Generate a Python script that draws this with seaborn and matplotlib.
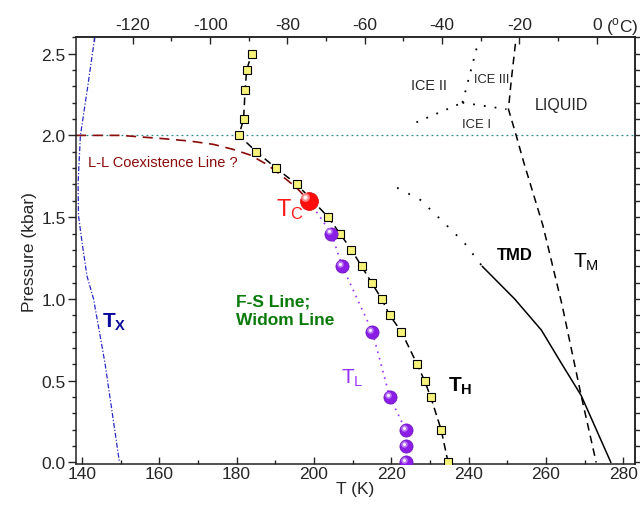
import numpy as np
import pandas as pd
import matplotlib
matplotlib.use("Agg")
import matplotlib.pyplot as plt
import matplotlib.transforms as mtransforms
import seaborn as sns

# --- data (T in K, P in kbar) ---
th_T = [234.7, 232.9, 230.2, 228.6, 226.7, 222.6, 219.6, 217.5, 214.9, 212.3, 209.7,
        206.7, 203.7, 195.6, 190.2, 185.1, 180.6, 181.8, 182.2, 182.6, 183.9]
th_P = [0.0, 0.2, 0.4, 0.5, 0.6, 0.8, 0.9, 1.0, 1.1, 1.2, 1.3,
        1.4, 1.5, 1.7, 1.8, 1.9, 2.0, 2.1, 2.28, 2.4, 2.5]

tl_T = [204.5, 207.3, 215.1, 219.6, 223.7, 223.7, 223.7]
tl_P = [1.4, 1.2, 0.8, 0.4, 0.2, 0.1, 0.0]

tc_T = [198.7]
tc_P = [1.6]

ll_T = [138.5, 150.0, 161.0, 168.0, 174.0, 179.0, 183.5, 188.0, 192.1, 195.5, 198.7]
ll_P = [2.0, 2.0, 1.98, 1.965, 1.945, 1.915, 1.88, 1.82, 1.745, 1.68, 1.6]

tx_T = [143.3, 141.5, 139.6, 139.0, 139.1, 140.0, 141.3, 143.0, 146.0, 149.7]
tx_P = [2.6, 2.3, 2.0, 1.71, 1.51, 1.35, 1.14, 1.0, 0.6, 0.0]

tmd_dot_T = [221.5, 227.5, 233.2, 238.9, 243.5]
tmd_dot_P = [1.68, 1.606, 1.476, 1.343, 1.2]
tmd_T = [243.5, 251.9, 258.8, 263.9, 269.1, 276.8]
tmd_P = [1.2, 1.0, 0.81, 0.61, 0.41, 0.0]

tm_T = [252.1, 251.0, 250.3, 252.3, 254.2, 259.2, 264.2, 269.1, 273.0]
tm_P = [2.56, 2.33, 2.16, 2.0, 1.84, 1.45, 0.96, 0.41, 0.0]

ice12_T = [226.5, 238.4]
ice12_P = [2.08, 2.2]
ice13_T = [238.4, 249.8]
ice13_P = [2.2, 2.16]
ice23_T = [238.4, 242.1]
ice23_P = [2.2, 2.535]

x_ticks = [140, 160, 180, 200, 220, 240, 260, 280]
y_ticks = [0.0, 0.5, 1.0, 1.5, 2.0, 2.5]
c_ticks = [-120, -100, -80, -60, -40, -20, 0]

sns.set_style("ticks")
plt.rcParams['font.family'] = ['Liberation Sans', 'DejaVu Sans']
plt.rcParams['axes.unicode_minus'] = False
plt.rcParams['mathtext.fontset'] = 'custom'
plt.rcParams['mathtext.rm'] = 'Liberation Sans'
plt.rcParams['mathtext.bf'] = 'Liberation Sans:bold'

fig = plt.figure(figsize=(6.4, 5.1), dpi=100)
ax = fig.add_axes([0.119, 0.088, 0.873, 0.837])


def line(x, y, **kw):
    sns.lineplot(x=x, y=y, sort=False, estimator=None, ax=ax, **kw)


# reference line at 2 kbar
ax.axhline(2.0, color="#2a8a8a", lw=0.9, ls=(0, (1.5, 2.5)), zorder=1)

# T_X
line(tx_T, tx_P, color="#2a2ac8", lw=0.9, linestyle=(0, (4, 1.5, 1, 1.5)))
# L-L coexistence
line(ll_T, ll_P, color="#8b0a0a", lw=1.2, linestyle=(0, (6, 4)))
# T_L dotted
line(tc_T + tl_T[:5], tc_P + tl_P[:5], color="#9933ff", lw=1.2, linestyle=(0, (1, 3)))
# T_H dashed with squares
line(th_T, th_P, color="black", lw=1.1, linestyle=(0, (5, 3)), marker="s",
     markersize=5.5, markerfacecolor="#f6f27a", markeredgecolor="black",
     markeredgewidth=0.8, zorder=3)
# TMD
line(tmd_dot_T, tmd_dot_P, color="black", lw=1.3, linestyle=(0, (1, 6)))
line(tmd_T, tmd_P, color="black", lw=1.1)
# T_M
line(tm_T, tm_P, color="black", lw=1.1, linestyle=(0, (5, 3.5)))
# ice boundaries
for xs, ys in [(ice12_T, ice12_P), (ice13_T, ice13_P), (ice23_T, ice23_P)]:
    line(xs, ys, color="black", lw=1.3, linestyle=(0, (1, 5)))

# spheres
hl = ax.transData + mtransforms.ScaledTranslation(-1.5 / 72, 1.5 / 72, fig.dpi_scale_trans)
hl_r = ax.transData + mtransforms.ScaledTranslation(-2.5 / 72, 2.5 / 72, fig.dpi_scale_trans)
sns.scatterplot(x=tl_T, y=tl_P, ax=ax, s=90, color="#8a1ee6", edgecolor="#6a10b8",
                linewidth=0.5, zorder=5)
ax.scatter(tl_T, tl_P, s=22, color="#c890ff", alpha=0.8, lw=0, zorder=6, transform=hl)
ax.scatter(tl_T, tl_P, s=5, color="white", alpha=0.9, lw=0, zorder=7, transform=hl)
sns.scatterplot(x=tc_T, y=tc_P, ax=ax, s=165, color="#ff0d0d", edgecolor="#d00000",
                linewidth=0.5, zorder=5)
ax.scatter(tc_T, tc_P, s=40, color="#ff9a9a", alpha=0.85, lw=0, zorder=6, transform=hl_r)
ax.scatter(tc_T, tc_P, s=10, color="white", alpha=0.9, lw=0, zorder=7, transform=hl_r)

# labels
ax.text(141.6, 1.84, "L-L Coexistence Line ?", color="#8b0a0a", fontsize=10.5, va="center")
ax.text(190.3, 1.514, r"$\mathregular{T_C}$", color="#ff1a1a", fontsize=17, va="baseline")
ax.text(145.2, 0.828, r"$\mathbf{T_X}$", color="#0a0a9a", fontsize=15, va="baseline")
ax.text(179.9, 0.93, "F-S Line;\nWidom Line", color="#0a7a0a", fontsize=12.5, fontweight="bold",
        va="center", linespacing=1.25)
ax.text(207.1, 0.49, r"$\mathregular{T_L}$", color="#9933ff", fontsize=15, va="baseline")
ax.text(234.6, 0.438, r"$\mathbf{T_H}$", color="black", fontsize=15, va="baseline")
ax.text(251.9, 1.27, "TMD", color="black", fontsize=12, fontweight="bold", ha="center", va="center")
ax.text(266.9, 1.196, r"$\mathregular{T_M}$", color="black", fontsize=15, va="baseline")
ax.text(229.7, 2.306, "ICE II", fontsize=10.4, ha="center", va="center")
ax.text(245.9, 2.343, "ICE III", fontsize=9.3, ha="center", va="center")
ax.text(242.0, 2.067, "ICE I", fontsize=9.4, ha="center", va="center")
ax.text(263.9, 2.19, "LIQUID", fontsize=11.5, ha="center", va="center")

# axes
ax.set_xlim(138.5, 283.0)
ax.set_ylim(-0.01, 2.6)
ax.set_xticks(x_ticks)
ax.set_xticks(np.arange(140, 281, 10), minor=True)
ax.set_yticks(y_ticks)
ax.set_yticks(np.arange(0, 2.61, 0.1), minor=True)
ax.set_yticklabels([f"{v:.1f}" for v in y_ticks])
ax.tick_params(axis="x", which="major", direction="in", length=5, width=1, labelsize=12.5, pad=1.5)
ax.tick_params(axis="x", which="minor", direction="in", length=3, width=1)
ax.tick_params(axis="y", which="major", direction="out", length=5.5, width=1, labelsize=12.5, pad=2)
ax.tick_params(axis="y", which="minor", direction="out", length=3, width=1)
ax.set_xlabel("T (K)", fontsize=12.5, labelpad=0)
ax.set_ylabel("Pressure (kbar)", fontsize=12.5, labelpad=3)
for s in ax.spines.values():
    s.set_linewidth(1.1)
    s.set_color("#222222")

top = ax.secondary_xaxis("top", functions=(lambda t: t - 273.15, lambda c: c + 273.15))
top.set_xticks(c_ticks)
top.set_xticks(np.arange(-130, 1, 10), minor=True)
top.tick_params(which="major", direction="in", length=5, width=1, labelsize=12.5, pad=4)
top.tick_params(which="minor", direction="in", length=3, width=1)
top.spines["top"].set_linewidth(1.1)
ax.text(275.6, 1.027, r"($^{\mathrm{o}}$C)", fontsize=12.5, va="center", ha="left",
        transform=mtransforms.blended_transform_factory(ax.transData, ax.transAxes))

right = ax.secondary_yaxis("right")
right.set_yticks(np.arange(0, 2.61, 0.1))
right.tick_params(direction="out", length=3.5, width=1, labelright=False)
right.spines["right"].set_linewidth(1.1)

fig.savefig("out.png", dpi=100)
